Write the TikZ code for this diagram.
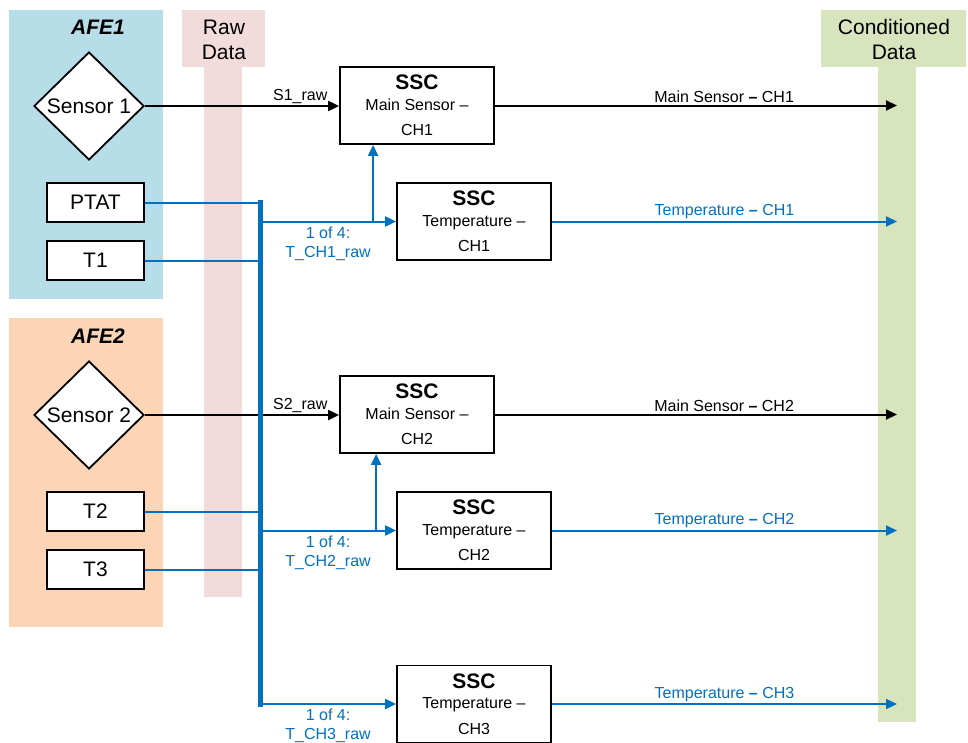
\documentclass[tikz,border=0pt]{standalone}
\usepackage{fontspec}
\setmainfont{Liberation Sans}
\usetikzlibrary{positioning,arrows.meta,calc,shapes.geometric}
\definecolor{sscblue}{RGB}{0,112,192}
\definecolor{afeone}{RGB}{183,221,232}
\definecolor{afetwo}{RGB}{251,213,181}
\definecolor{rawcol}{RGB}{242,220,219}
\definecolor{condcol}{RGB}{215,228,189}
\newcommand\bigfont{\fontsize{21}{25}\selectfont}
\newcommand\smallfont{\fontsize{16}{19}\selectfont}
\newcommand\ssclabel[2]{{\fontsize{21}{21}\selectfont\bfseries SSC}\\[-4.6pt]#1 --\\#2}

\begin{document}
\begin{tikzpicture}[
  x=1pt, y=-1pt,
  sensor/.style={diamond,draw,line width=1.8pt,fill=white,minimum width=110pt,minimum height=108pt,inner sep=0pt,font=\bigfont},
  afebox/.style={draw,line width=1.8pt,fill=white,minimum width=97pt,minimum height=39pt,inner sep=0pt,font=\bigfont},
  ssc/.style={draw,line width=1.8pt,fill=white,minimum width=154pt,minimum height=77pt,inner sep=0pt,align=center,font={\fontsize{16}{25.3}\selectfont}},
  strip/.style={minimum width=38pt,inner sep=0pt},
  head/.style={align=center,font=\bigfont},
  lbl/.style={font=\smallfont,inner sep=1.5pt,align=center},
  arr/.style={-{Triangle[length=11pt,width=10pt]},line width=2pt},
  barr/.style={arr,sscblue},
  bline/.style={sscblue,line width=2pt},
  bus/.style={sscblue,line width=5pt,line cap=rect},
]
  \useasboundingbox (0,0) rectangle (968,742);

  % Background panels
  \fill[afeone] (9,10) rectangle (163,299);
  \fill[afetwo] (9,318) rectangle (163,627);
  \fill[rawcol] (182,10) rectangle (265,67);
  \fill[condcol] (821,10) rectangle (966,67);
  \node[strip,fill=rawcol,minimum height=530pt] (rawstrip) at (223,332) {};
  \node[strip,fill=condcol,minimum height=655pt] (condstrip) at (897,394.5) {};

  \node[head] (rawhead) at (224,39.5) {Raw\\Data};
  \node[head] (condhead) at (894,39.5) {Conditioned\\Data};
  \node[head,font=\bigfont\bfseries\itshape] (afeonehead) at (98,27) {AFE1};
  \node[head,font=\bigfont\bfseries\itshape] (afetwohead) at (98,336) {AFE2};

  % Front ends
  \node[sensor] (sensor1) at (89,106) {Sensor 1};
  \node[afebox] (ptat) at (95.5,202.5) {PTAT};
  \node[afebox] (tone) at (95.5,260.5) {T1};
  \node[sensor] (sensor2) at (89,415) {Sensor 2};
  \node[afebox] (ttwo) at (95.5,511.5) {T2};
  \node[afebox] (tthree) at (95.5,569.5) {T3};

  % Signal conditioning
  \node[ssc] (main1) at (417,105.5) {\ssclabel{Main Sensor}{CH1}};
  \node[ssc] (temp1) at (474,221.5) {\ssclabel{Temperature}{CH1}};
  \node[ssc] (main2) at (417,414.5) {\ssclabel{Main Sensor}{CH2}};
  \node[ssc] (temp2) at (474,530.5) {\ssclabel{Temperature}{CH2}};
  \node[ssc] (temp3) at (474,704) {\ssclabel{Temperature}{CH3}};

  \coordinate (bustop) at (260,202.5);
  \coordinate (busbot) at (bustop |- temp3.west);
  \coordinate[left=23pt of temp1.west] (fork1);
  \coordinate[left=20pt of temp2.west] (fork2);

  % Raw sensor data
  \draw[arr] (sensor1.east) -- (sensor1.east -| main1.west) node[lbl,above,pos=0.8] (sraw1) {S1\_raw};
  \draw[arr] (sensor2.east) -- (sensor2.east -| main2.west) node[lbl,above,pos=0.8] (sraw2) {S2\_raw};

  % Temperature bus
  \draw[bline] (ptat.east) -- (ptat.east -| bustop);
  \draw[bline] (tone.east) -- (tone.east -| bustop);
  \draw[bline] (ttwo.east) -- (ttwo.east -| bustop);
  \draw[bline] (tthree.east) -- (tthree.east -| bustop);
  \draw[bus] (bustop) -- (busbot);

  \draw[barr] (temp1.west -| bustop) -- (temp1.west) node[lbl,below,midway,text=sscblue,inner sep=4pt] (traw1) {1 of 4:\\T\_CH1\_raw};
  \draw[barr] (temp2.west -| bustop) -- (temp2.west) node[lbl,below,midway,text=sscblue,inner sep=4pt] (traw2) {1 of 4:\\T\_CH2\_raw};
  \draw[barr] (busbot) -- (temp3.west) node[lbl,below,midway,text=sscblue,inner sep=4pt] (traw3) {1 of 4:\\T\_CH3\_raw};
  \draw[barr] (fork1) -- (fork1 |- main1.south);
  \draw[barr] (fork2) -- (fork2 |- main2.south);

  % Conditioned outputs
  \draw[arr] (main1.east) -- (main1.east -| condstrip.center) node[lbl,above,pos=0.57] (mout1) {Main Sensor \textbf{--} CH1};
  \draw[arr] (main2.east) -- (main2.east -| condstrip.center) node[lbl,above,pos=0.57] (mout2) {Main Sensor \textbf{--} CH2};
  \draw[barr] (temp1.east) -- (temp1.east -| condstrip.center) node[lbl,above,midway] (tout1) {\textcolor{sscblue}{Temperature} \textbf{--} \textcolor{sscblue}{CH1}};
  \draw[barr] (temp2.east) -- (temp2.east -| condstrip.center) node[lbl,above,midway] (tout2) {\textcolor{sscblue}{Temperature} \textbf{--} \textcolor{sscblue}{CH2}};
  \draw[barr] (temp3.east) -- (temp3.east -| condstrip.center) node[lbl,above,midway] (tout3) {\textcolor{sscblue}{Temperature} \textbf{--} \textcolor{sscblue}{CH3}};
\end{tikzpicture}
\end{document}
